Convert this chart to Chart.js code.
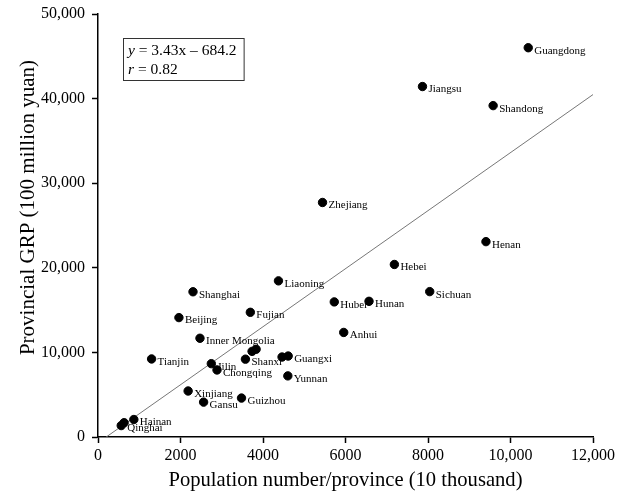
<!DOCTYPE html>
<html>
<head>
<meta charset="utf-8">
<script src="https://cdn.jsdelivr.net/npm/chart.js@4/dist/chart.umd.min.js"></script>
<style>
  html, body { margin: 0; padding: 0; background: #fff; }
  #wrap { width: 622px; height: 494px; position: relative; }
</style>
</head>
<body>
<div id="wrap"><canvas id="c" width="622" height="494"></canvas></div>
<script>
// Provinces (population in 10 thousand, GRP in 100 million yuan)
const provinces = ['Guangdong','Jiangsu','Shandong','Zhejiang','Henan','Hebei','Sichuan','Liaoning',
  'Shanghai','Beijing','Fujian','Hubei','Hunan','Anhui','Inner Mongolia','Tianjin','Jilin','Chongqing',
  'Shanxi','Shaanxi','Heilongjiang','Jiangxi','Guangxi','Yunnan','Xinjiang','Gansu','Guizhou','Hainan',
  'Ningxia','Qinghai'];
const population = [10430,7866,9579,5443,9405,7185,8042,4375,
  2303,1962,3693,5728,6570,5957,2472,1299,2747,2885,
  3574,3735,3833,4462,4610,4602,2185,2560,3479,869,
  633,563];
const grp = [46013,41425,39170,27722,23092,20394,17185,18457,
  17166,14114,14737,15968,16038,12359,11672,9224,8668,7926,
  9201,10123,10369,9451,9570,7224,5437,4121,4602,2065,
  1690,1350];
const showLabel = [1,1,1,1,1,1,1,1, 1,1,1,1,1,1,1,1,1,1, 1,0,0,0,1,1,1,1,1,1, 0,1];

const slope = 3.43, intercept = -684.2, rValue = 0.82;
const xTicksMax = 12000, yTicksMax = 50000;

const FONT = '"Liberation Serif", "Times New Roman", serif';

const points = population.map((p, i) => ({x: p, y: grp[i]}));
const xStart = -intercept / slope;
const fitLine = [{x: xStart, y: slope * xStart + intercept}, {x: xTicksMax, y: slope * xTicksMax + intercept}];

function fmt(v) { return v >= 10000 ? v.toLocaleString('en-US') : String(v); }

const labelPlugin = {
  id: 'pointLabels',
  afterDatasetsDraw(chart) {
    const ctx = chart.ctx;
    const xs = chart.scales.x, ys = chart.scales.y;
    ctx.save();
    ctx.font = '11px ' + FONT;
    ctx.fillStyle = '#000';
    ctx.textBaseline = 'middle';
    ctx.textAlign = 'left';
    points.forEach((p, i) => {
      if (!showLabel[i]) return;
      const px = xs.getPixelForValue(p.x), py = ys.getPixelForValue(p.y);
      ctx.fillText(provinces[i], px + 6, py + 3);
    });
    ctx.restore();
  }
};

const boxPlugin = {
  id: 'eqBox',
  afterDraw(chart) {
    const ctx = chart.ctx, ca = chart.chartArea;
    const fs = 15.5;
    ctx.save();
    const l1a = 'y', l1b = ' = ' + slope.toFixed(2) + 'x \u2013 ' + Math.abs(intercept).toFixed(1);
    const l2a = 'r', l2b = ' = ' + rValue.toFixed(2);
    ctx.font = 'italic ' + fs + 'px ' + FONT;
    const wy = ctx.measureText(l1a).width, wr = ctx.measureText(l2a).width;
    ctx.font = fs + 'px ' + FONT;
    const w1 = wy + ctx.measureText(l1b).width;
    const bx = ca.left + 25, by = ca.top + 24;
    const bw = w1 + 12, bh = 42;
    ctx.strokeStyle = '#333';
    ctx.lineWidth = 1;
    ctx.strokeRect(bx + 0.5, by + 0.5, bw, bh);
    ctx.fillStyle = '#000';
    ctx.textBaseline = 'middle';
    const tx = bx + 5;
    ctx.font = 'italic ' + fs + 'px ' + FONT;
    ctx.fillText(l1a, tx, by + 12.5);
    ctx.fillText(l2a, tx, by + 31.5);
    ctx.font = fs + 'px ' + FONT;
    ctx.fillText(l1b, tx + wy, by + 12.5);
    ctx.fillText(l2b, tx + wr, by + 31.5);
    ctx.restore();
  }
};

const yTitlePlugin = {
  id: 'yTitle',
  afterDraw(chart) {
    const ctx = chart.ctx, ca = chart.chartArea;
    ctx.save();
    ctx.font = '21px ' + FONT;
    ctx.fillStyle = '#000';
    ctx.textAlign = 'center';
    ctx.textBaseline = 'middle';
    ctx.translate(28, (ca.top + ca.bottom) / 2 - 18);
    ctx.rotate(-Math.PI / 2);
    ctx.fillText('Provincial GRP (100 million yuan)', 0, 0);
    ctx.restore();
  }
};

const axisCommon = {
  grid: { display: true, drawOnChartArea: false, drawTicks: true, tickLength: 6, tickColor: '#000', tickWidth: 1.5 },
  border: { display: true, color: '#000', width: 1.5 },
};

new Chart(document.getElementById('c'), {
  type: 'scatter',
  data: {
    datasets: [
      { type: 'line', data: fitLine, borderColor: '#777', borderWidth: 1, pointRadius: 0, fill: false, order: 2 },
      { data: points, backgroundColor: '#000', borderColor: '#000', pointRadius: 4.2, pointHoverRadius: 4.2, order: 1 }
    ]
  },
  options: {
    responsive: false,
    animation: false,
    events: [],
    layout: { padding: { top: 14, right: 29, left: 0, bottom: 0 } },
    plugins: { legend: { display: false }, tooltip: { enabled: false } },
    scales: {
      x: Object.assign({}, axisCommon, {
        type: 'linear', min: 0, max: xTicksMax,
        ticks: { stepSize: 2000, color: '#000', padding: 3, maxRotation: 0, font: { family: FONT, size: 16 }, callback: v => fmt(v) },
        title: { display: true, text: 'Population number/province (10 thousand)', color: '#000', font: { family: FONT, size: 20.6 }, padding: { top: 0, bottom: 1 } },
        afterFit(s) { s.height = 57; }
      }),
      y: Object.assign({}, axisCommon, {
        type: 'linear', min: 0, max: yTicksMax,
        ticks: { stepSize: 10000, color: '#000', padding: 7, font: { family: FONT, size: 16, lineHeight: 0.75 }, callback: v => fmt(v) },
        afterFit(s) { s.width = 98; }
      })
    }
  },
  plugins: [labelPlugin, boxPlugin, yTitlePlugin]
});
</script>
</body>
</html>
